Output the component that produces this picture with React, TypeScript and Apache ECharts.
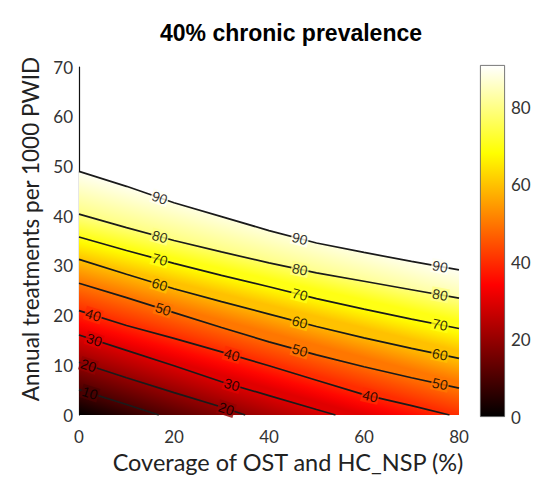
import React, { useEffect, useRef } from "react";
import * as echarts from "echarts";

// ---- data ----
const xTicks = [0, 20, 40, 60, 80];
const yRange = [0, 70];
const colorRange = [0, 91];
const levels = [10, 20, 30, 40, 50, 60, 70, 80, 90];

const contour10 = [[0, 5.1], [10, 2.1], [16.8, 0]];
const contour20 = [[0, 10.6], [10, 7.5], [20, 4.5], [30, 1.6], [35, 0]];
const contour30 = [[0, 16.1], [10, 13.0], [20, 9.9], [30, 6.7], [40, 3.9], [50, 1.1], [54, 0]];
const contour40 = [[0, 21.0], [10, 18.0], [20, 15.4], [30, 12.7], [40, 9.9], [50, 7.0], [60, 4.1], [70, 1.9], [78, 0]];
const contour50 = [[0, 26.5], [10, 23.6], [20, 20.6], [30, 17.6], [40, 14.7], [50, 12.1], [60, 9.7], [70, 7.5], [80, 5.4]];
const contour60 = [[0, 31.3], [10, 28.3], [20, 25.4], [30, 22.8], [40, 20.3], [50, 17.8], [60, 15.5], [70, 13.4], [80, 11.4]];
const contour70 = [[0, 35.8], [10, 33.1], [20, 30.5], [30, 28.1], [40, 25.8], [50, 23.4], [60, 21.3], [70, 19.3], [80, 17.4]];
const contour80 = [[0, 40.4], [10, 37.7], [20, 35.1], [30, 32.8], [40, 30.6], [50, 28.6], [60, 26.9], [70, 25.2], [80, 23.5]];
const contour90 = [[0, 49.0], [10, 46.0], [20, 42.7], [30, 39.9], [40, 37.1], [50, 34.6], [60, 32.7], [70, 30.9], [80, 29.2]];

const labelX10 = [2.3];
const labelX20 = [2.0, 31];
const labelX30 = [3.2, 32.2];
const labelX40 = [3.0, 32.2, 61.3];
const labelX50 = [17.7, 46.5, 76];
const labelX60 = [17, 46.5, 76];
const labelX70 = [17, 46.5, 76];
const labelX80 = [17, 46.5, 76];
const labelX90 = [17, 46.5, 76];

const contours = [contour10, contour20, contour30, contour40, contour50, contour60, contour70, contour80, contour90];
const labelXs = [labelX10, labelX20, labelX30, labelX40, labelX50, labelX60, labelX70, labelX80, labelX90];

// ---- layout ----
const GRID = { left: 79, top: 67, width: 380, height: 348 };
const CBAR = { left: 480, top: 65, width: 25, height: 352 };

function hot(v: number): string {
  const t = Math.max(0, Math.min(1, (v - colorRange[0]) / (colorRange[1] - colorRange[0])));
  const r = Math.min(1, t / 0.375);
  const g = Math.max(0, Math.min(1, (t - 0.375) / 0.375));
  const b = Math.max(0, Math.min(1, (t - 0.75) / 0.25));
  return `rgb(${Math.round(r * 255)},${Math.round(g * 255)},${Math.round(b * 255)})`;
}

function segAt(c: number[][], x: number) {
  for (let i = 0; i < c.length - 1; i++) {
    if (x >= c[i][0] && x <= c[i + 1][0]) return i;
  }
  return c.length - 2;
}

function yAt(c: number[][], x: number) {
  const i = segAt(c, x);
  const [x1, y1] = c[i];
  const [x2, y2] = c[i + 1];
  return y1 + ((y2 - y1) * (x - x1)) / (x2 - x1);
}

function slopeAngle(c: number[][], x: number) {
  const i = segAt(c, x);
  const s = (c[i + 1][1] - c[i][1]) / (c[i + 1][0] - c[i][0]);
  const pxX = GRID.width / (xTicks[xTicks.length - 1] - xTicks[0]);
  const pxY = GRID.height / (yRange[1] - yRange[0]);
  return (Math.atan((s * pxY) / pxX) * 180) / Math.PI;
}

export default function App() {
  const ref = useRef<HTMLDivElement>(null);

  useEffect(() => {
    if (!ref.current) return;
    const chart = echarts.init(ref.current, undefined, { renderer: "svg" });

    const xMax = xTicks[xTicks.length - 1];
    const allBounds = [[[xTicks[0], yRange[0]]], ...contours];

    const fillSeries: any = {
      type: "custom",
      xAxisIndex: 0,
      yAxisIndex: 0,
      clip: true,
      silent: true,
      z: 1,
      data: levels.map((lv, i) => [i, lv]),
      renderItem: (params: any, api: any) => {
        const i = params.dataIndex;
        const lower = allBounds[i];
        const upper = allBounds[i + 1];
        const loLevel = i === 0 ? colorRange[0] : levels[i - 1];
        const hiLevel = levels[i];
        const upEnd = upper[upper.length - 1];
        const loEnd = lower[lower.length - 1];
        const boundary: number[][] = [...upper];
        // follow the plot frame: right edge down to the bottom axis
        if (upEnd[0] >= xMax && loEnd[0] < xMax) boundary.push([xMax, yRange[0]]);
        const up = upper.map((p) => api.coord(p));
        const lo = lower.map((p) => api.coord(p));
        const points = [...boundary.map((p) => api.coord(p)), ...lo.slice().reverse()];
        const dx = up[up.length - 1][0] - up[0][0];
        const dy = up[up.length - 1][1] - up[0][1];
        const len = Math.hypot(dx, dy);
        let nx = dy / len;
        let ny = -dx / len;
        let w = (up[0][0] - lo[0][0]) * nx + (up[0][1] - lo[0][1]) * ny;
        if (w < 0) {
          nx = -nx;
          ny = -ny;
          w = -w;
        }
        const A = lo[0];
        const B = [A[0] + nx * w, A[1] + ny * w];
        const stops = [0, 0.25, 0.5, 0.75, 1].map((t) => ({
          offset: t,
          color: hot(loLevel + t * (hiLevel - loLevel)),
        }));
        return {
          type: "polygon",
          shape: { points },
          style: {
            fill: new echarts.graphic.LinearGradient(A[0], A[1], B[0], B[1], stops, true),
            stroke: null,
          },
        };
      },
    };

    const lineSeries = contours.map((c) => ({
      type: "line",
      xAxisIndex: 0,
      yAxisIndex: 0,
      data: c,
      showSymbol: false,
      symbol: "none",
      silent: true,
      clip: true,
      z: 2,
      lineStyle: { color: "#1a1a1a", width: 1.7 },
    }));

    const labelData: any[] = [];
    contours.forEach((c, k) => {
      labelXs[k].forEach((lx) => {
        labelData.push({
          value: [lx, yAt(c, lx)],
          label: {
            show: true,
            formatter: String(levels[k]),
            rotate: slopeAngle(c, lx),
            backgroundColor: hot(levels[k]),
          },
        });
      });
    });

    const labelSeries = {
      type: "scatter",
      xAxisIndex: 0,
      yAxisIndex: 0,
      data: labelData,
      symbolSize: 1,
      silent: true,
      z: 3,
      itemStyle: { color: "transparent" },
      label: {
        show: true,
        position: "inside",
        fontFamily: "Liberation Sans",
        fontSize: 14,
        color: "#000",
        padding: [0, 1],
      },
    };

    const cbarStops = Array.from({ length: 9 }, (_, i) => ({
      offset: i / 8,
      color: hot(colorRange[1] - (i / 8) * (colorRange[1] - colorRange[0])),
    }));

    const colorbarSeries = {
      type: "bar",
      xAxisIndex: 1,
      yAxisIndex: 1,
      data: [colorRange[1]],
      barWidth: "100%",
      silent: true,
      itemStyle: {
        color: new echarts.graphic.LinearGradient(0, 0, 0, 1, cbarStops),
        borderColor: "#555",
        borderWidth: 0.8,
      },
    };

    chart.setOption({
      animation: false,
      backgroundColor: "#ffffff",
      title: {
        text: "40% chronic prevalence",
        left: 286,
        top: 16,
        textAlign: "center",
        textStyle: {
          fontFamily: "Liberation Sans",
          fontWeight: "bold",
          fontSize: 23,
          color: "#000",
        },
      },
      grid: [
        { ...GRID, containLabel: false },
        { ...CBAR, containLabel: false },
      ],
      xAxis: [
        {
          type: "value",
          gridIndex: 0,
          min: xTicks[0],
          max: xMax,
          interval: 20,
          axisLine: { show: false },
          axisTick: { show: false },
          splitLine: { show: false },
          axisLabel: { fontFamily: "Lato", fontSize: 17, color: "#333", margin: 13 },
          name: "Coverage of OST and HC_NSP (%)",
          nameLocation: "middle",
          nameGap: 34,
          nameTextStyle: {
            fontFamily: "Lato",
            fontSize: 23.5,
            color: "#222",
            padding: [0, 0, 0, 38],
          },
        },
        {
          type: "category",
          gridIndex: 1,
          data: [""],
          show: false,
        },
      ],
      yAxis: [
        {
          type: "value",
          gridIndex: 0,
          min: yRange[0],
          max: yRange[1],
          interval: 10,
          axisLine: { show: true, lineStyle: { color: "#111", width: 1.2 } },
          axisTick: { show: false },
          splitLine: { show: false },
          axisLabel: { fontFamily: "Lato", fontSize: 17, color: "#333", margin: 6 },
          name: "Annual treatments per 1000 PWID",
          nameLocation: "middle",
          nameGap: 29,
          nameTextStyle: {
            fontFamily: "Lato",
            fontSize: 22.5,
            color: "#222",
            padding: [0, 0, 0, 24],
          },
        },
        {
          type: "value",
          gridIndex: 1,
          position: "right",
          min: colorRange[0],
          max: colorRange[1],
          interval: 20,
          axisLine: { show: false },
          axisTick: { show: false },
          splitLine: { show: false },
          axisLabel: {
            fontFamily: "Lato",
            fontSize: 17,
            color: "#333",
            margin: 6,
            showMaxLabel: false,
          },
        },
      ],
      series: [fillSeries, ...lineSeries, labelSeries, colorbarSeries],
    });

    return () => chart.dispose();
  }, []);

  return (
    <div
      ref={ref}
      style={{ position: "absolute", left: 0, top: 0, width: 537, height: 485 }}
    />
  );
}
